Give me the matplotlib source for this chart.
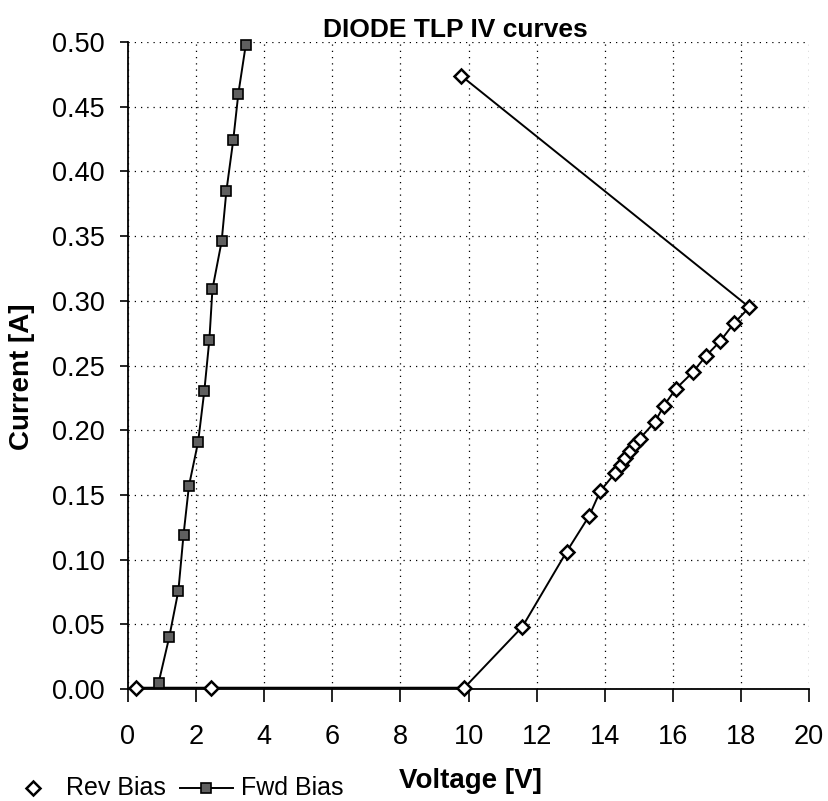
import matplotlib
matplotlib.use('agg')
import matplotlib.pyplot as plt
from matplotlib.lines import Line2D

plt.rcParams['font.family'] = ['Liberation Sans', 'DejaVu Sans']

# reverse bias sweep (diamonds)
rev_v = [0.23, 2.44, 9.88, 11.58, 12.88, 13.55, 13.87, 14.31, 14.48, 14.61, 14.75,
         14.90, 15.03, 15.48, 15.74, 16.09, 16.58, 16.98, 17.39, 17.80, 18.25, 9.78]
rev_i = [0.001, 0.001, 0.001, 0.048, 0.106, 0.134, 0.153, 0.167, 0.173, 0.1785, 0.184,
         0.189, 0.1935, 0.2066, 0.219, 0.232, 0.2446, 0.2576, 0.2687, 0.2827, 0.295, 0.474]

# forward bias sweep (squares)
fwd_v = [0.90, 1.21, 1.48, 1.63, 1.79, 2.06, 2.24, 2.39, 2.48, 2.75, 2.89, 3.09, 3.24, 3.46]
fwd_i = [0.005, 0.040, 0.076, 0.119, 0.157, 0.191, 0.230, 0.270, 0.309, 0.346, 0.385,
         0.424, 0.460, 0.498]

x_ticks = list(range(0, 21, 2))
y_ticks = [i * 0.05 for i in range(11)]

W, H = 829, 801
fig = plt.figure(figsize=(W / 100, H / 100), dpi=100)
ax = fig.add_axes([128 / W, 1 - 689 / H, 681 / W, 647 / H])

ax.plot(rev_v, rev_i, color='black', lw=1.4, marker='D', ms=7.5, mfc='white',
        mec='black', mew=1.8, clip_on=False, zorder=3)
ax.plot(fwd_v, fwd_i, color='black', lw=1.4, marker='s', ms=6.5, mfc='#606060',
        mec='black', mew=1.2, clip_on=False, zorder=3)

ax.set_xlim(0, 20)
ax.set_ylim(0, 0.5)
ax.set_xticks(x_ticks)
ax.set_yticks(y_ticks)
ax.set_yticklabels(['%.2f' % v for v in y_ticks])
ax.grid(True, color='black', linestyle=(0, (1, 4)), lw=0.9)
ax.set_axisbelow(True)

for s in ['top', 'right']:
    ax.spines[s].set_visible(False)
for s in ['left', 'bottom']:
    ax.spines[s].set_linewidth(1.3)

ax.tick_params(axis='x', direction='out', length=9, width=1.2, pad=16, labelsize=19.5)
ax.tick_params(axis='y', direction='out', length=6, width=1.2, pad=11, labelsize=19.5)

fig.text(455 / W, 1 - 37 / H, 'DIODE TLP IV curves', ha='center', va='baseline',
         fontsize=19, fontweight='bold')
fig.text(470 / W, 1 - 781 / H, 'Voltage [V]', ha='center', va='center',
         fontsize=20, fontweight='bold')
fig.text(22 / W, 1 - 377 / H, 'Current [A]', ha='center', va='center',
         rotation=90, fontsize=20, fontweight='bold')

# legend drawn by hand to match the original position
ly = 1 - 788 / H
fig.add_artist(Line2D([33 / W], [ly], transform=fig.transFigure, marker='D', ms=7,
                      mfc='white', mec='black', mew=1.8, ls='none'))
fig.text(66 / W, ly, 'Rev Bias', ha='left', va='center', fontsize=18)
fig.add_artist(Line2D([180 / W, 233 / W], [ly, ly], transform=fig.transFigure,
                      color='black', lw=1.4))
fig.add_artist(Line2D([206 / W], [ly], transform=fig.transFigure, marker='s', ms=6.5,
                      mfc='#606060', mec='black', mew=1.2, ls='none'))
fig.text(241 / W, ly, 'Fwd Bias', ha='left', va='center', fontsize=18)

fig.savefig('out.png', dpi=100)
